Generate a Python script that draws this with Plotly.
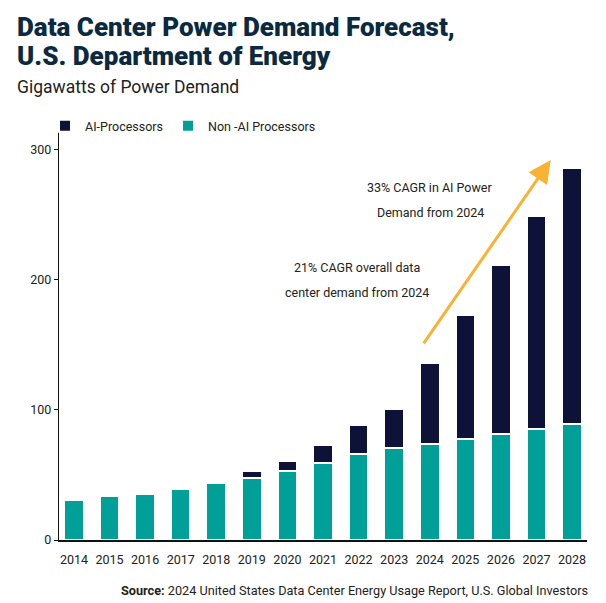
import plotly.graph_objects as go

years = ["2014", "2015", "2016", "2017", "2018", "2019", "2020", "2021",
         "2022", "2023", "2024", "2025", "2026", "2027", "2028"]
non_ai = [30.5, 33.5, 35.5, 39.5, 43.5, 48, 53, 59, 66, 71, 74, 77.5, 81.5, 85, 89]
ai = [0, 0, 0, 0, 0, 5, 8, 14, 22, 30, 62, 95.5, 129.5, 164, 197]

NAVY = "#0f1238"
TEAL = "#00a099"
ORANGE = "#f9b233"
FONT = "Roboto, sans-serif"

# the page body adds an 8px margin, so the figure is drawn 8px smaller
OFF = 8
W, H = 606 - OFF, 603 - OFF
# plot area edges in page pixels
L, R, T, B = 59, 587, 121, 540
PW, PH = R - L, B - T


def px(x):
    return (x - L) / PW


def py(y):
    return (B - y) / PH


fig = go.Figure()
fig.add_trace(go.Bar(
    x=years, y=non_ai, name="Non -AI Processors",
    marker=dict(color=TEAL, line=dict(color="white", width=2)),
))
fig.add_trace(go.Bar(
    x=years, y=ai, name="AI-Processors",
    marker=dict(color=NAVY, line=dict(color="white", width=2)),
))

annotations = [
    dict(text="Data Center Power Demand Forecast,", x=px(15), y=py(27),
         font=dict(size=26, color="#0b2a40", weight=900)),
    dict(text="U.S. Department of Energy", x=px(15), y=py(56),
         font=dict(size=26, color="#0b2a40", weight=900)),
    dict(text="Gigawatts of Power Demand", x=px(15), y=py(87),
         font=dict(size=17.5, color="#222222")),
]
for a in annotations:
    a.update(xref="paper", yref="paper", xanchor="left", yanchor="middle",
             showarrow=False)

notes = [("33% CAGR in AI Power", 430, 187), ("Demand from 2024", 430, 212),
         ("21% CAGR overall data", 357, 267), ("center demand from 2024", 357, 292)]
for txt, nx, ny in notes:
    annotations.append(dict(text=txt, x=px(nx), y=py(ny), xref="paper", yref="paper",
                            xanchor="center", yanchor="middle", showarrow=False,
                            font=dict(size=12.5, color="#222222")))

annotations.append(dict(
    text="<b>Source:</b> 2024 United States Data Center Energy Usage Report, U.S. Global Investors",
    x=px(590), y=py(590), xref="paper", yref="paper", xanchor="right", yanchor="middle",
    showarrow=False, font=dict(size=12.7, color="#222222")))

# growth arrow
annotations.append(dict(
    x=13.4, y=292, ax=9.8, ay=150, xref="x", yref="y", axref="x", ayref="y",
    text="", showarrow=True, arrowhead=2, arrowsize=1.5, arrowwidth=3,
    arrowcolor=ORANGE, standoff=0,
))

fig.update_layout(
    width=W, height=H,
    margin=dict(l=L - OFF, r=W - (R - OFF), t=T - OFF, b=H - (B - OFF)),
    barmode="stack", bargap=0.45,
    plot_bgcolor="white", paper_bgcolor="white",
    font=dict(family=FONT, size=12, color="#222222"),
    showlegend=True,
    legend=dict(orientation="h", traceorder="reversed", x=px(45), y=py(126),
                xanchor="left", yanchor="middle",
                font=dict(size=12.5, color="#222222"), bgcolor="rgba(0,0,0,0)"),
    annotations=annotations,
    xaxis=dict(showline=True, linecolor="#111111", linewidth=1.5, ticks="",
               range=[-0.42, 14.42], ticklabelstandoff=7,
               tickfont=dict(size=12.5, color="#222222")),
    yaxis=dict(showline=True, linecolor="#111111", linewidth=1.2, ticks="outside",
               ticklen=4, tickcolor="#111111", showgrid=False, zeroline=False,
               range=[0, 322], tickvals=[0, 100, 200, 300],
               tickfont=dict(size=12.5, color="#222222")),
)

fig.write_html("out.html")
